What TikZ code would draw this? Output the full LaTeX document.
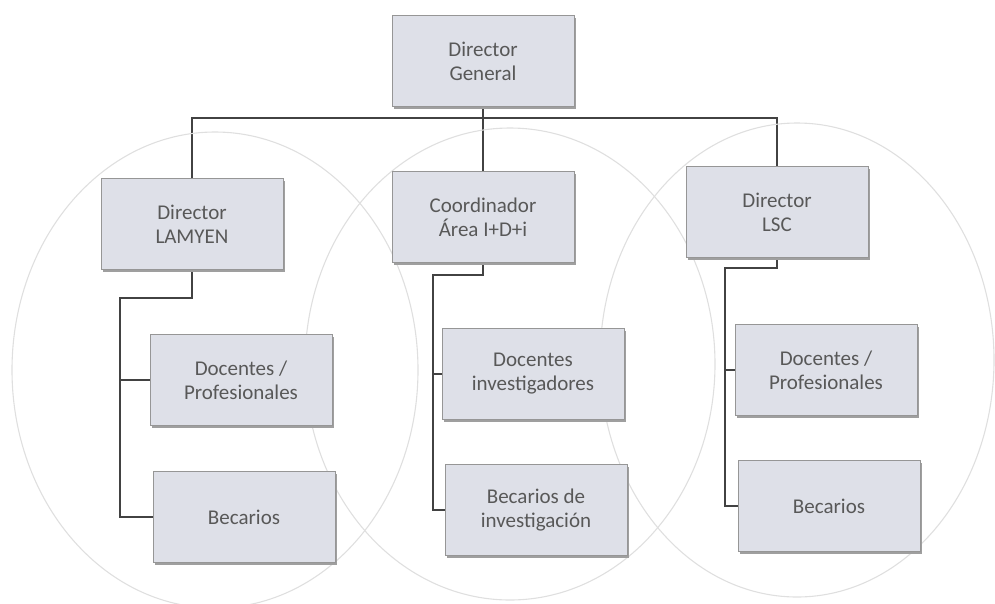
\documentclass[tikz,border=0pt]{standalone}
\usepackage{fontspec}
\setmainfont{Carlito}
\usetikzlibrary{calc,shadows,backgrounds,positioning}

\definecolor{boksfyll}{RGB}{222,224,232}
\definecolor{boksrand}{RGB}{150,150,150}
\definecolor{linjefarge}{RGB}{66,66,66}
\definecolor{tekstfarge}{RGB}{88,88,88}

\begin{document}
\begin{tikzpicture}[
    x=1pt, y=-1pt,
    %framed,
    every node/.style={inner sep=2mm, outer sep=0cm, font=\fontsize{21}{24}\selectfont, text=tekstfarge},
    kasse/.style={rectangle, draw=boksrand, line width=0.8pt, fill=boksfyll, align=center,
        minimum width=182pt, minimum height=91pt,
        drop shadow={shadow xshift=2pt, shadow yshift=-2pt, fill=gray!75, opacity=1}},
    linje/.style={line width=1.8pt, draw=linjefarge},
    sirkel/.style={line width=1.1pt, draw=gray!25}
    ]
    \useasboundingbox (0,0) rectangle (995,603);

% gruppene
\draw[sirkel] (215,370) ellipse [x radius=203pt, y radius=238pt];
\draw[sirkel] (510,364) ellipse [x radius=205pt, y radius=236pt];
\draw[sirkel] (797,360) ellipse [x radius=197pt, y radius=237pt];

\node[kasse] (dg) at (483,61) {Director\\General};

\node[kasse] (lamyen) at (192,224) {Director\\LAMYEN};
\node[kasse] (koord) at (483,217) {Coordinador\\Área I+D+i};
\node[kasse] (lsc) at (777,212) {Director\\LSC};

\node[kasse] (docl) at (241,380) {Docentes /\\Profesionales};
\node[kasse] (becl) at (244,517) {Becarios};
\node[kasse] (doci) at (533,374) {Docentes\\investigadores};
\node[kasse] (beci) at (536,510) {Becarios de\\investigación};
\node[kasse] (docr) at (826,370) {Docentes /\\Profesionales};
\node[kasse] (becr) at (829,506) {Becarios};

\coordinate (buss) at (483,118);
\coordinate (skinneL) at (120,298);
\coordinate (skinneM) at (433,275);
\coordinate (skinneR) at (725,268);

\begin{scope}[on background layer]
\draw[linje] (dg.south) -- (buss);
\draw[linje] (lamyen.north) |- (buss) -| (lsc.north);
\draw[linje] (buss) -- (koord.north);

\draw[linje] (lamyen.south) |- (skinneL) |- (becl.west);
\draw[linje] (skinneL) |- (docl.west);
\draw[linje] (koord.south) |- (skinneM) |- (beci.west);
\draw[linje] (skinneM) |- (doci.west);
\draw[linje] (lsc.south) |- (skinneR) |- (becr.west);
\draw[linje] (skinneR) |- (docr.west);
\end{scope}
\end{tikzpicture}
\end{document}
